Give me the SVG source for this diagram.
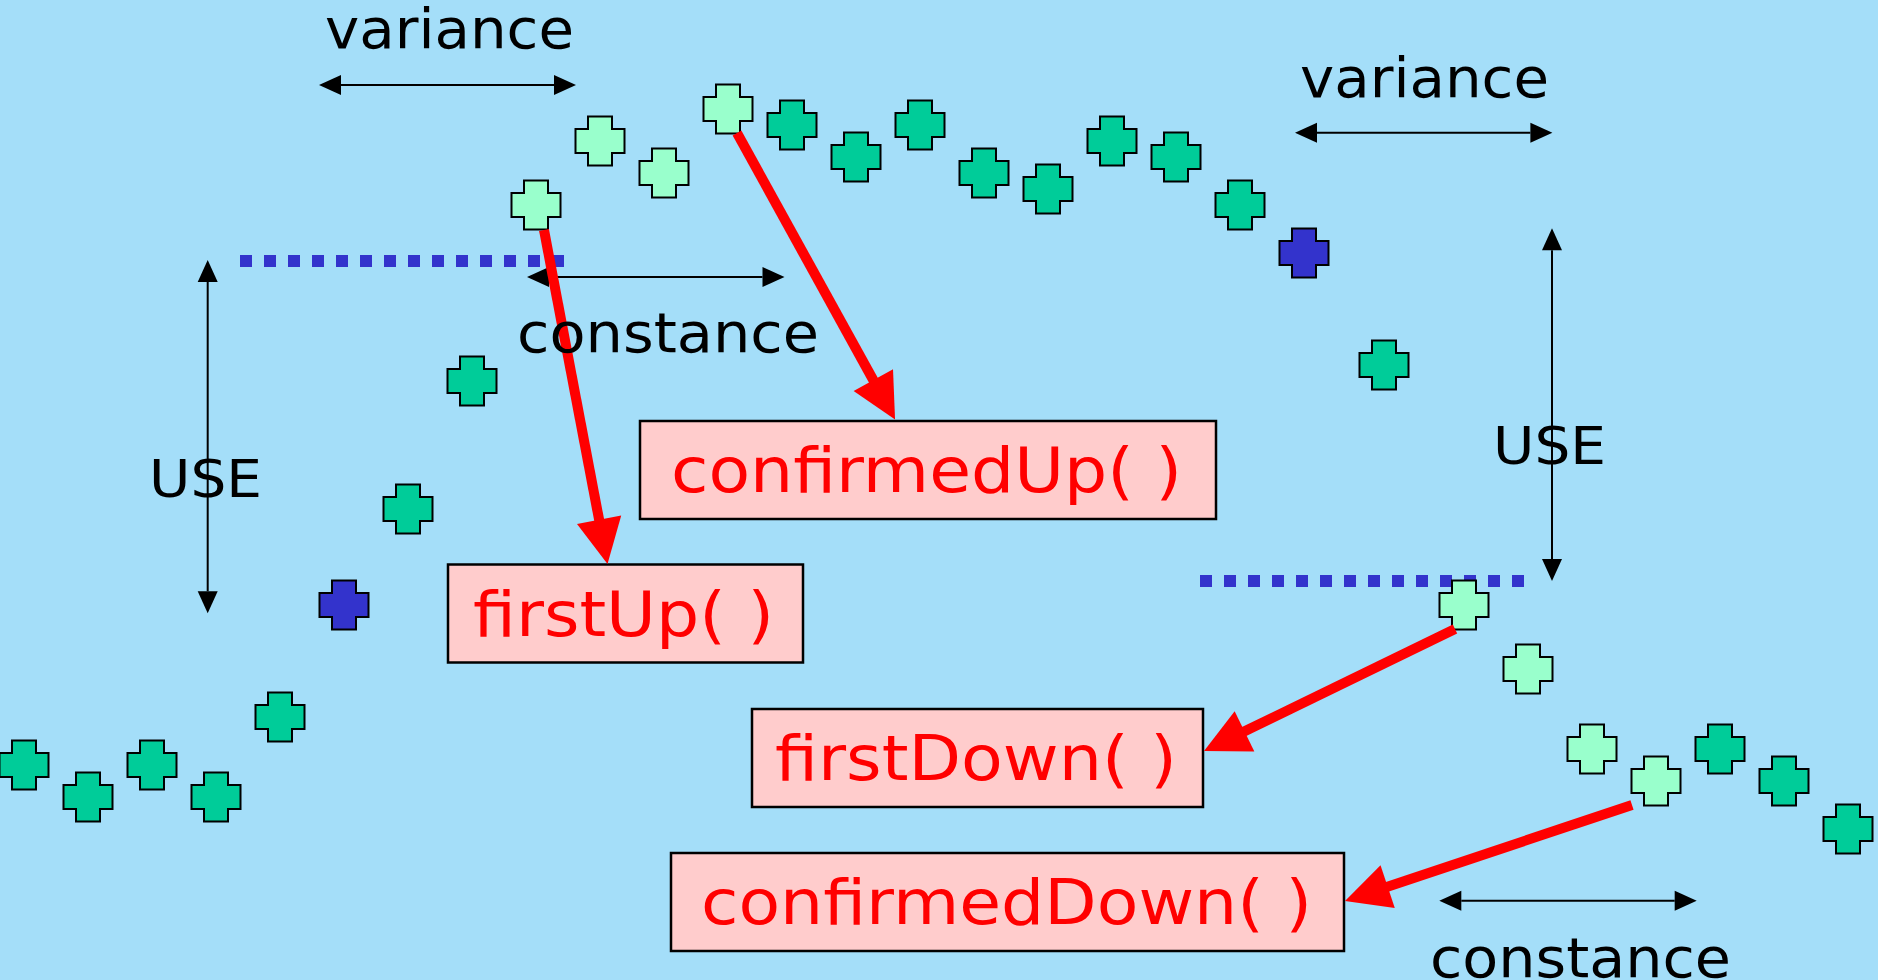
<svg xmlns="http://www.w3.org/2000/svg" xmlns:xlink="http://www.w3.org/1999/xlink" width="1878" height="980" viewBox="0 0 1878 980">
  <style>
    .pt { stroke: #000; stroke-width: 2; }
    .pt.mid { fill: #00CC99; }
    .pt.lite { fill: #99FFCC; }
    .pt.dark { fill: #3333CC; }
    .level { fill: none; stroke: #3333CC; stroke-width: 12; stroke-dasharray: 12 12; }
    .dim { fill: none; stroke: #000; stroke-width: 2; marker-start: url(#tip); marker-end: url(#tip); }
    .call { fill: none; stroke: #FF0000; stroke-width: 10; marker-end: url(#redtip); }
    .box rect { fill: #FFCCCC; stroke: #000; stroke-width: 2.5; }
    .box text { font-family: "DejaVu Sans", "Liberation Sans", sans-serif; font-size: 62px; fill: #FF0000; }
    .lbl { font-family: "DejaVu Sans", "Liberation Sans", sans-serif; font-size: 55px; fill: #000; }
    .lbl.use { font-size: 51px; }
  </style>
  <defs>
    <path id="cross" d="M-12,-24.5 H12 V-12 H24.5 V12 H12 V24.5 H-12 V12 H-24.5 V-12 H-12 Z"/>
    <marker id="tip" markerUnits="userSpaceOnUse" markerWidth="23" markerHeight="20" refX="0" refY="10" orient="auto-start-reverse" overflow="visible">
      <path d="M0,0 L22,10 L0,20 Z" fill="#000"/>
    </marker>
    <marker id="redtip" markerUnits="userSpaceOnUse" markerWidth="45" markerHeight="45" refX="1" refY="22.5" orient="auto" overflow="visible">
      <path d="M0,0 L45,22.5 L0,45 Z" fill="#FF0000"/>
    </marker>
  </defs>

  <rect width="1878" height="980" fill="#A4DEF9"/>

  <!-- threshold levels -->
  <g id="levels">
    <path class="level" d="M240,261 H564"/>
    <path class="level" d="M1200,581 H1524"/>
  </g>

  <!-- dimension arrows -->
  <g id="dimensions">
    <path class="dim" d="M341,85 H554"/>
    <path class="dim" d="M549,277 H762.5"/>
    <path class="dim" d="M1317,132.7 H1530.4"/>
    <path class="dim" d="M1461.3,900.7 H1674.7"/>
    <path class="dim" d="M207.7,282 V591.3"/>
    <path class="dim" d="M1552,250.3 V559"/>
  </g>

  <!-- data points -->
  <g id="points">
    <g id="p01"><use xlink:href="#cross" class="pt mid" x="24" y="765"/></g>
    <g id="p02"><use xlink:href="#cross" class="pt mid" x="88" y="797"/></g>
    <g id="p03"><use xlink:href="#cross" class="pt mid" x="152" y="765"/></g>
    <g id="p04"><use xlink:href="#cross" class="pt mid" x="216" y="797"/></g>
    <g id="p05"><use xlink:href="#cross" class="pt mid" x="280" y="717"/></g>
    <g id="p06"><use xlink:href="#cross" class="pt dark" x="344" y="605"/></g>
    <g id="p07"><use xlink:href="#cross" class="pt mid" x="408" y="509"/></g>
    <g id="p08"><use xlink:href="#cross" class="pt mid" x="472" y="381"/></g>
    <g id="p09"><use xlink:href="#cross" class="pt lite" x="536" y="205"/></g>
    <g id="p10"><use xlink:href="#cross" class="pt lite" x="600" y="141"/></g>
    <g id="p11"><use xlink:href="#cross" class="pt lite" x="664" y="173"/></g>
    <g id="p12"><use xlink:href="#cross" class="pt lite" x="728" y="109"/></g>
    <g id="p13"><use xlink:href="#cross" class="pt mid" x="792" y="125"/></g>
    <g id="p14"><use xlink:href="#cross" class="pt mid" x="856" y="157"/></g>
    <g id="p15"><use xlink:href="#cross" class="pt mid" x="920" y="125"/></g>
    <g id="p16"><use xlink:href="#cross" class="pt mid" x="984" y="173"/></g>
    <g id="p17"><use xlink:href="#cross" class="pt mid" x="1048" y="189"/></g>
    <g id="p18"><use xlink:href="#cross" class="pt mid" x="1112" y="141"/></g>
    <g id="p19"><use xlink:href="#cross" class="pt mid" x="1176" y="157"/></g>
    <g id="p20"><use xlink:href="#cross" class="pt mid" x="1240" y="205"/></g>
    <g id="p21"><use xlink:href="#cross" class="pt dark" x="1304" y="253"/></g>
    <g id="p22"><use xlink:href="#cross" class="pt mid" x="1384" y="365"/></g>
    <g id="p23"><use xlink:href="#cross" class="pt lite" x="1464" y="605"/></g>
    <g id="p24"><use xlink:href="#cross" class="pt lite" x="1528" y="669"/></g>
    <g id="p25"><use xlink:href="#cross" class="pt lite" x="1592" y="749"/></g>
    <g id="p26"><use xlink:href="#cross" class="pt lite" x="1656" y="781"/></g>
    <g id="p27"><use xlink:href="#cross" class="pt mid" x="1720" y="749"/></g>
    <g id="p28"><use xlink:href="#cross" class="pt mid" x="1784" y="781"/></g>
    <g id="p29"><use xlink:href="#cross" class="pt mid" x="1848" y="829"/></g>
  </g>

  <!-- event callbacks -->
  <g id="firstUp" class="box">
    <rect x="448" y="564.5" width="355" height="98"/>
    <text x="473" y="636" textLength="301" lengthAdjust="spacingAndGlyphs">firstUp( )</text>
  </g>
  <g id="confirmedUp" class="box">
    <rect x="640" y="421" width="576" height="98"/>
    <text x="671" y="492" textLength="511" lengthAdjust="spacingAndGlyphs">confirmedUp( )</text>
  </g>
  <g id="firstDown" class="box">
    <rect x="752" y="709" width="451" height="98"/>
    <text x="775" y="780" textLength="402" lengthAdjust="spacingAndGlyphs">firstDown( )</text>
  </g>
  <g id="confirmedDown" class="box">
    <rect x="671" y="853" width="673" height="98"/>
    <text x="701" y="924" textLength="611" lengthAdjust="spacingAndGlyphs">confirmedDown( )</text>
  </g>

  <!-- connectors from points to callbacks -->
  <g id="connectors">
    <path class="call" d="M544,230 L599.3,520.8"/>
    <path class="call" d="M737,133 L873.8,381"/>
    <path class="call" d="M1455,629 L1243.6,731.8"/>
    <path class="call" d="M1632,805 L1386.7,887"/>
  </g>

  <!-- dimension labels -->
  <g id="labels">
    <text class="lbl" x="325" y="48" textLength="249" lengthAdjust="spacingAndGlyphs">variance</text>
    <text class="lbl" x="1300" y="97" textLength="249" lengthAdjust="spacingAndGlyphs">variance</text>
    <text class="lbl" x="517" y="352" textLength="302" lengthAdjust="spacingAndGlyphs">constance</text>
    <text class="lbl" x="1430" y="977" textLength="301" lengthAdjust="spacingAndGlyphs">constance</text>
    <text class="lbl use" x="149" y="497" textLength="113" lengthAdjust="spacingAndGlyphs">USE</text>
    <text class="lbl use" x="1493" y="464" textLength="113" lengthAdjust="spacingAndGlyphs">USE</text>
  </g>
</svg>
